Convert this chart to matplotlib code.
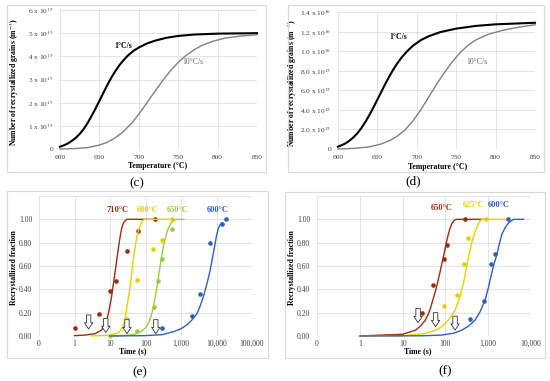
import matplotlib
matplotlib.use('Agg')
import matplotlib.pyplot as plt
from matplotlib.patches import Rectangle
from matplotlib.ticker import NullLocator

plt.rcParams['font.family'] = ['Liberation Serif', 'DejaVu Serif']
plt.rcParams['mathtext.fontset'] = 'stix'

W, H = 550, 381

# ---- (c) number of grains vs temperature, in 1e15 m^-3
c_temp1 = [600, 605, 610, 615, 620, 625, 630, 635, 640, 645, 650, 655, 660, 665, 670, 675,
           680, 686, 693, 700, 710, 720, 735, 750, 770, 800, 850]
c_num1 = [0.10, 0.16, 0.24, 0.35, 0.48, 0.65, 0.86, 1.12, 1.42, 1.74, 2.08, 2.42, 2.76, 3.07, 3.35, 3.60,
          3.81, 4.03, 4.23, 4.38, 4.55, 4.67, 4.80, 4.88, 4.94, 4.98, 5.00]
c_temp10 = [600, 620, 635, 650, 660, 670, 680, 690, 700, 710, 720, 730, 740, 750, 760, 770,
            780, 795, 810, 830, 850]
c_num10 = [0.00, 0.02, 0.06, 0.17, 0.29, 0.48, 0.74, 1.08, 1.50, 1.98, 2.47, 2.94, 3.37, 3.74, 4.04, 4.28,
           4.47, 4.66, 4.79, 4.88, 4.93]
c_yticks = [0, 1, 2, 3, 4, 5, 6]
c_ylabels = ['0'] + ['%d x 10$^{15}$' % v for v in c_yticks[1:]]

# ---- (d) same, in 1e15 m^-3
d_temp1 = [600, 605, 610, 615, 620, 625, 630, 635, 640, 645, 650, 655, 660, 665, 670, 675,
           680, 687, 695, 705, 715, 730, 750, 775, 800, 850]
d_num1 = [0.24, 0.40, 0.60, 0.88, 1.22, 1.65, 2.18, 2.80, 3.50, 4.25, 5.05, 5.85, 6.65, 7.40, 8.10, 8.72,
          9.28, 9.93, 10.55, 11.12, 11.52, 11.95, 12.30, 12.58, 12.74, 12.90]
d_temp10 = [600, 620, 640, 655, 667, 675, 685, 695, 705, 715, 725, 735, 745, 755, 765, 775,
            790, 810, 830, 850]
d_num10 = [0.0, 0.06, 0.22, 0.52, 0.92, 1.30, 1.95, 2.85, 4.0, 5.3, 6.6, 7.8, 8.9, 9.85, 10.6, 11.15,
           11.7, 12.15, 12.45, 12.7]
d_yticks = [0, 2, 4, 6, 8, 10, 12, 14]
d_ylabels = ['0', '2.0 x 10$^{15}$', '4.0 x 10$^{15}$', '6.0 x 10$^{15}$', '8.0 x 10$^{15}$',
             '1.0 x 10$^{16}$', '1.2 x 10$^{16}$', '1.4 x 10$^{16}$']
temp_ticks = [600, 650, 700, 750, 800, 850]

# ---- (e) recrystallized fraction vs time
e_t710 = [1, 2, 3.8, 5.7, 7, 7.9, 8.8, 9.8, 11, 12.1, 13.5, 15, 16.8, 18.6, 20, 21.6, 24, 27, 30, 200]
e_y710 = [0.003, 0.008, 0.02, 0.05, 0.085, 0.12, 0.18, 0.25, 0.33, 0.42, 0.52, 0.62, 0.73, 0.82, 0.88,
          0.93, 0.97, 0.99, 1.0, 1.0]
e_t680 = [3, 10, 15, 18.6, 22, 25.5, 28, 31, 35, 39, 43, 48, 54, 60, 67, 74, 82, 92, 600]
e_y680 = [0.0, 0.006, 0.02, 0.037, 0.07, 0.12, 0.19, 0.28, 0.38, 0.48, 0.60, 0.71, 0.81, 0.88, 0.93,
          0.96, 0.985, 1.0, 1.0]
e_t650 = [10, 31, 50, 74, 100, 126, 150, 175, 205, 240, 280, 330, 385, 450, 530, 630, 800, 1200]
e_y650 = [0.0, 0.006, 0.016, 0.037, 0.07, 0.12, 0.19, 0.28, 0.40, 0.54, 0.67, 0.79, 0.87, 0.93, 0.97,
          0.99, 1.0, 1.0]
e_t600 = [10, 100, 300, 620, 1000, 1450, 2000, 2800, 3500, 4300, 5400, 6600, 7800, 9000, 10000,
          11200, 12500, 14000]
e_y600 = [0.0, 0.003, 0.012, 0.037, 0.062, 0.094, 0.135, 0.19, 0.26, 0.34, 0.45, 0.56, 0.68, 0.78,
          0.86, 0.92, 0.95, 0.97]

e_pt710 = [1, 5, 10, 15, 30, 60, 180]
e_pv710 = [0.07, 0.19, 0.39, 0.47, 0.73, 0.90, 1.00]
e_pt680 = [10, 30, 57, 167, 290, 560]
e_pv680 = [0.00, 0.15, 0.48, 0.75, 0.82, 1.00]
e_pt650 = [57, 175, 225, 290, 560]
e_pv650 = [0.04, 0.245, 0.47, 0.66, 0.92]
e_pt600 = [290, 2000, 3400, 6500, 14400, 19000]
e_pv600 = [0.07, 0.17, 0.36, 0.80, 0.96, 1.00]

e_arrow_t = [2.5, 7.6, 30, 195]
e_arrow_top = [0.18, 0.15, 0.14, 0.14]
e_arrow_bot = [0.06, 0.03, 0.02, 0.02]
e_xticks = [0.1, 1, 10, 100, 1000, 10000, 100000]
e_xlabels = ['0', '1', '10', '100', '1,000', '10,000', '100,000']

# ---- (f)
f_t650 = [1, 10, 20, 27, 33, 39, 45, 51, 58, 66, 75, 85, 95, 105, 115, 127, 140, 160, 180, 1000]
f_y650 = [0, 0.015, 0.05, 0.09, 0.13, 0.18, 0.24, 0.31, 0.38, 0.46, 0.55, 0.64, 0.72, 0.80, 0.86,
          0.92, 0.96, 0.99, 1.0, 1.0]
f_t625 = [1, 10, 33, 60, 82, 120, 168, 215, 264, 305, 347, 420, 500, 600, 710, 2500]
f_y625 = [0, 0.002, 0.02, 0.05, 0.08, 0.14, 0.22, 0.33, 0.45, 0.57, 0.68, 0.81, 0.90, 0.97, 1.0, 1.0]
f_t600 = [1, 30, 82, 160, 240, 350, 495, 650, 850, 1020, 1210, 1400, 1600, 1850, 2100, 2500, 3000,
          3900, 6700]
f_y600 = [0, 0.002, 0.008, 0.025, 0.05, 0.085, 0.137, 0.21, 0.31, 0.42, 0.54, 0.63, 0.70, 0.80, 0.875,
          0.93, 0.97, 1.0, 1.0]

f_pt650 = [28, 50, 95, 110, 280]
f_pv650 = [0.20, 0.44, 0.66, 0.78, 1.00]
f_pt625 = [95, 185, 265, 333, 880]
f_pv625 = [0.26, 0.35, 0.62, 0.84, 1.00]
f_pt600 = [380, 780, 1150, 1450, 2900]
f_pv600 = [0.15, 0.30, 0.62, 0.70, 1.00]

f_arrow_t = [23, 59, 168]
f_arrow_top = [0.236, 0.20, 0.17]
f_arrow_bot = [0.114, 0.08, 0.05]
f_xticks = [0.1, 1, 10, 100, 1000, 10000]
f_xlabels = ['0', '1', '10', '100', '1,000', '10,000']

frac_ticks = [0, 0.2, 0.4, 0.6, 0.8, 1.0, 1.2]
frac_labels = ['0.00', '0.20', '0.40', '0.60', '0.80', '1.00', '']

BROWN = '#9b2d12'
YELLOW = '#e6d000'
GREEN = '#9acb45'
BLUE = '#2f5fbf'
GRID = '#d9d9d9'
TICKC = '#404040'
LBL = 5.6

fig = plt.figure(figsize=(W / 100, H / 100), dpi=100)


def px_axes(x0, y0, x1, y1):
    return fig.add_axes([x0 / W, 1 - y1 / H, (x1 - x0) / W, (y1 - y0) / H])


def frame(x0, y0, x1, y1):
    fig.patches.append(Rectangle((x0 / W, 1 - y1 / H), (x1 - x0) / W, (y1 - y0) / H,
                                 transform=fig.transFigure, fill=False, ec=GRID, lw=0.8))


def style(ax, xpad, ypad, size=5.5):
    for s in ax.spines.values():
        s.set_visible(False)
    ax.grid(True, color=GRID, lw=0.5)
    ax.set_axisbelow(True)
    ax.tick_params(length=0, labelsize=size, colors=TICKC)
    ax.tick_params(axis='x', pad=xpad)
    ax.tick_params(axis='y', pad=ypad)


def arrows(ax, ts, tops, bots):
    for t, a, b in zip(ts, tops, bots):
        ax.annotate('', xy=(t, b), xytext=(t, a),
                    arrowprops=dict(arrowstyle='simple,head_width=0.6,head_length=0.45,tail_width=0.32',
                                    fc='white', ec='#333333', lw=0.6, mutation_scale=10,
                                    shrinkA=0, shrinkB=0))


# frames and captions
frame(7, 5, 266, 172)
frame(288, 5, 544, 172)
frame(7, 191, 268, 358)
frame(285, 192, 545, 358)
fig.text(137 / W, 1 - 183 / H, '(c)', ha='center', va='center', fontsize=9.5)
fig.text(413 / W, 1 - 181 / H, '(d)', ha='center', va='center', fontsize=9.5)
fig.text(140 / W, 1 - 372 / H, '(e)', ha='center', va='center', fontsize=9.5)
fig.text(445 / W, 1 - 371 / H, '(f)', ha='center', va='center', fontsize=9.5)

# ---- (c)
ax = px_axes(60, 10, 257, 149)
style(ax, 4.5, 5, 5.3)
ax.plot(c_temp1, c_num1, color='black', lw=1.5, clip_on=False)
ax.plot(c_temp10, c_num10, color='#808080', lw=1.0, clip_on=False)
ax.set_xlim(600, 850)
ax.set_ylim(0, 6)
ax.set_xticks(temp_ticks)
ax.set_yticks(c_yticks)
ax.set_yticklabels(c_ylabels)
ax.set_xlabel('Temperature (°C)', fontsize=LBL, fontweight='bold')
ax.set_ylabel('Number of recrystallized grains (m$^{-3}$)', fontsize=LBL, fontweight='bold')
ax.xaxis.set_label_coords(0.497, -0.095)
ax.yaxis.set_label_coords(-0.2, 0.48)
ax.text(680, 4.45, '1°C/s', fontsize=LBL, fontweight='bold', ha='center', va='center')
ax.text(769, 3.75, '10°C/s', fontsize=LBL, color='#666666', ha='center', va='center')

# ---- (d)
ax = px_axes(338, 12, 535, 149)
style(ax, 4.5, 5, 5.3)
ax.plot(d_temp1, d_num1, color='black', lw=1.5, clip_on=False)
ax.plot(d_temp10, d_num10, color='#808080', lw=1.0, clip_on=False)
ax.set_xlim(600, 850)
ax.set_ylim(0, 14)
ax.set_xticks(temp_ticks)
ax.set_yticks(d_yticks)
ax.set_yticklabels(d_ylabels)
ax.set_xlabel('Temperature (°C)', fontsize=LBL, fontweight='bold')
ax.set_ylabel('Number of recrystallized grains (m$^{-3}$)', fontsize=LBL, fontweight='bold')
ax.xaxis.set_label_coords(0.505, -0.1)
ax.yaxis.set_label_coords(-0.2, 0.48)
ax.text(676, 11.4, '1°C/s', fontsize=LBL, fontweight='bold', ha='center', va='center')
ax.text(776, 8.9, '10°C/s', fontsize=LBL, color='#666666', ha='center', va='center')


def frac_axes(ax, xticks, xlabels, xlab_x):
    style(ax, 3, 5)
    ax.set_xscale('log')
    ax.set_xlim(xticks[0], xticks[-1])
    ax.set_ylim(0, 1.2)
    ax.set_xticks(xticks)
    ax.set_xticklabels(xlabels)
    ax.xaxis.set_minor_locator(NullLocator())
    ax.set_yticks(frac_ticks)
    ax.set_yticklabels(frac_labels)
    ax.set_xlabel('Time (s)', fontsize=LBL, fontweight='bold')
    ax.set_ylabel('Recrystallized fraction', fontsize=LBL, fontweight='bold')
    ax.xaxis.set_label_coords(xlab_x, -0.08)
    ax.yaxis.set_label_coords(-0.1, 0.49)


# ---- (e)
ax = px_axes(39, 196, 252, 336)
frac_axes(ax, e_xticks, e_xlabels, 0.44)
for t, y, pt, pv, col in [(e_t710, e_y710, e_pt710, e_pv710, BROWN),
                          (e_t680, e_y680, e_pt680, e_pv680, YELLOW),
                          (e_t650, e_y650, e_pt650, e_pv650, GREEN),
                          (e_t600, e_y600, e_pt600, e_pv600, BLUE)]:
    ax.plot(t, y, color=col, lw=1.0, clip_on=False)
    ax.plot(pt, pv, 'o', color=col, ms=2.3, clip_on=False)
arrows(ax, e_arrow_t, e_arrow_top, e_arrow_bot)
ax.text(16.7, 1.08, '710°C', color=BROWN, fontsize=6, fontweight='bold', ha='center', va='center')
ax.text(113, 1.08, '680°C', color=YELLOW, fontsize=6, fontweight='bold', ha='center', va='center')
ax.text(780, 1.08, '650°C', color=GREEN, fontsize=6, fontweight='bold', ha='center', va='center')
ax.text(11000, 1.08, '600°C', color=BLUE, fontsize=6, fontweight='bold', ha='center', va='center')

# ---- (f)
ax = px_axes(317, 196, 531, 336)
frac_axes(ax, f_xticks, f_xlabels, 0.47)
for t, y, pt, pv, col in [(f_t650, f_y650, f_pt650, f_pv650, BROWN),
                          (f_t625, f_y625, f_pt625, f_pv625, YELLOW),
                          (f_t600, f_y600, f_pt600, f_pv600, BLUE)]:
    ax.plot(t, y, color=col, lw=1.0, clip_on=False)
    ax.plot(pt, pv, 'o', color=col, ms=2.3, clip_on=False)
arrows(ax, f_arrow_t, f_arrow_top, f_arrow_bot)
ax.text(82, 1.10, '650°C', color=BROWN, fontsize=6, fontweight='bold', ha='center', va='center')
ax.text(455, 1.12, '625°C', color=YELLOW, fontsize=6, fontweight='bold', ha='center', va='center')
ax.text(1750, 1.12, '600°C', color=BLUE, fontsize=6, fontweight='bold', ha='center', va='center')

fig.savefig('out.png', dpi=100)
